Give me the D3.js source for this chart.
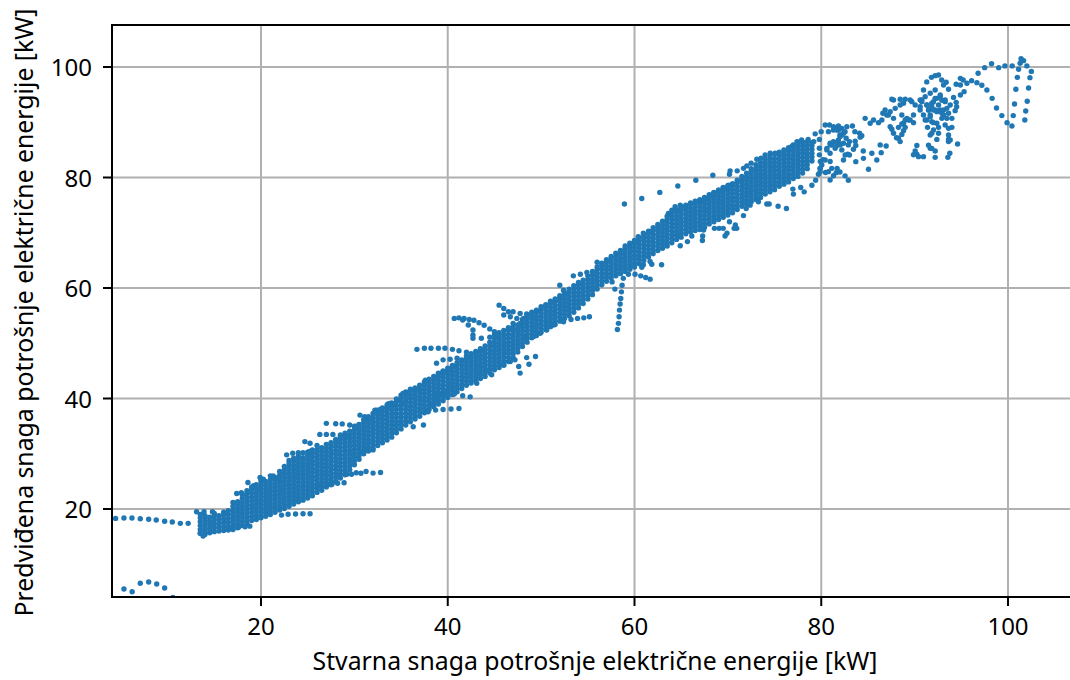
<!DOCTYPE html>
<html><head><meta charset="utf-8">
<script src="https://cdn.jsdelivr.net/npm/d3@7"></script>
<style>html,body{margin:0;padding:0;background:#fff}svg{display:block}text{font-family:"Noto Sans","Open Sans",sans-serif;fill:#000}</style>
</head><body><svg id="c" width="1070" height="680"></svg>
<script>
const xTicks=[20,40,60,80,100];
const yTicks=[20,40,60,80,100];
const xLabel="Stvarna snaga potrošnje električne energije [kW]";
const yLabel="Predviđena snaga potrošnje električne energije [kW]";
// dense core of the cloud, per actual-power column: predicted values as read
const coreX=[13.5,14,14.5,15,15.5,16,16.5,17,17.5,18,18.5,19,19.5,20,20.5,21,21.5,22,22.5,23,23.5,24,24.5,25,25.5,26,26.5,27,27.5,28,28.5,29,29.5,30,30.5,31,31.5,32,32.5,33,33.5,34,34.5,35,35.5,36,36.5,37,37.5,38,38.5,39,39.5,40,40.5,41,41.5,42,42.5,43,43.5,44,44.5,45,45.5,46,46.5,47,47.5,48,48.5,49,49.5,50,50.5,51,51.5,52,52.5,53,53.5,54,54.5,55,55.5,56,56.5,57,57.5,58,58.5,59,59.5,60,60.5,61,61.5,62,62.5,63,63.5,64,64.5,65,65.5,66,66.5,67,67.5,68,68.5,69,69.5,70,70.5,71,71.5,72,72.5,73,73.5,74,74.5,75,75.5,76,76.5,77,77.5,78,78.5,79];
const coreY=[
[15.6,16.3,17,17.7,18.4,19],[15.4,16,16.7,17.4,18.1,18.8],[15.7,16.4,17.1,17.8,18.5],[15.9,16.6,17.3,18,18.7,19.2],[16,16.7,17.4,18.1,18.8],[16.1,16.8,17.5,18.2,18.9,19.4],[16.2,16.9,17.6,18.3,19,19.7],[16.3,17,17.7,18.4,19.1,19.8,20.5,21.2],[16.6,17.3,18,18.7,19.4,20.1,20.8,21.3],[17,17.7,18.4,19.1,19.8,20.5,21.2,21.9,22.6],
[17.3,18,18.7,19.4,20.1,20.8,21.5,22.2,22.9],[17.9,18.6,19.3,20,20.7,21.4,22.1,22.8,23.5,24],[18.1,18.8,19.5,20.2,20.9,21.6,22.3,23,23.7,24.4],[18.4,19.1,19.8,20.5,21.2,21.9,22.6,23.3,24,24.7,25.2],[18.7,19.4,20.1,20.8,21.5,22.2,22.9,23.6,24.3,25],[19,19.7,20.4,21.1,21.8,22.5,23.2,23.9,24.6,25.3,26],[19.4,20.1,20.8,21.5,22.2,22.9,23.6,24.3,25,25.7],[19.8,20.5,21.2,21.9,22.6,23.3,24,24.7,25.4,26.1,26.8],[20.1,20.8,21.5,22.2,22.9,23.6,24.3,25,25.7,26.4,27.1,27.7],[20.5,21.2,21.9,22.6,23.3,24,24.7,25.4,26.1,26.8,27.5,28.2,28.8],
[20.9,21.6,22.3,23,23.7,24.4,25.1,25.8,26.5,27.2,27.9,28.6,29.2],[21.3,22,22.7,23.4,24.1,24.8,25.5,26.2,26.9,27.6,28.3,29,29.6],[21.6,22.3,23,23.7,24.4,25.1,25.8,26.5,27.2,27.9,28.6,29.3],[22,22.7,23.4,24.1,24.8,25.5,26.2,26.9,27.6,28.3,29,29.7,30.3],[22.4,23.1,23.8,24.5,25.2,25.9,26.6,27.3,28,28.7,29.4,30.1,30.7],[23,23.7,24.4,25.1,25.8,26.5,27.2,27.9,28.6,29.3,30,30.7],[23.4,24.1,24.8,25.5,26.2,26.9,27.6,28.3,29,29.7,30.4,31.1],[24,24.7,25.4,26.1,26.8,27.5,28.2,28.9,29.6,30.3,31,31.7],[24.4,25.1,25.8,26.5,27.2,27.9,28.6,29.3,30,30.7,31.4,32],[25,25.7,26.4,27.1,27.8,28.5,29.2,29.9,30.6,31.3,32,32.6],
[25.6,26.3,27,27.7,28.4,29.1,29.8,30.5,31.2,31.9,32.6,33.1],[26.2,26.9,27.6,28.3,29,29.7,30.4,31.1,31.8,32.5,33.2,33.7],[27.1,27.8,28.5,29.2,29.9,30.6,31.3,32,32.7,33.4,34.1],[28,28.7,29.4,30.1,30.8,31.5,32.2,32.9,33.6,34.3,35],[29,29.7,30.4,31.1,31.8,32.5,33.2,33.9,34.6,35.3],[30,30.7,31.4,32.1,32.8,33.5,34.2,34.9,35.6,36.2],[30.5,31.2,31.9,32.6,33.3,34,34.7,35.4,36.1,36.7],[31,31.7,32.4,33.1,33.8,34.5,35.2,35.9,36.6,37.3],[31.5,32.2,32.9,33.6,34.3,35,35.7,36.4,37.1,37.8],[32,32.7,33.4,34.1,34.8,35.5,36.2,36.9,37.6,38.3],
[32.5,33.2,33.9,34.6,35.3,36,36.7,37.4,38.1,38.8],[33,33.7,34.4,35.1,35.8,36.5,37.2,37.9,38.6,39.2],[33.8,34.5,35.2,35.9,36.6,37.3,38,38.7,39.4,39.9],[34.5,35.2,35.9,36.6,37.3,38,38.7,39.4,40.1,40.6],[35.2,35.9,36.6,37.3,38,38.7,39.4,40.1,40.8,41.2],[35.8,36.5,37.2,37.9,38.6,39.3,40,40.7,41.4,41.7],[36.3,37,37.7,38.4,39.1,39.8,40.5,41.2,41.9],[36.8,37.5,38.2,38.9,39.6,40.3,41,41.7,42.4],[37.4,38.1,38.8,39.5,40.2,40.9,41.6,42.3,43],[38,38.7,39.4,40.1,40.8,41.5,42.2,42.9,43.5],
[38.5,39.2,39.9,40.6,41.3,42,42.7,43.4,44],[39,39.7,40.4,41.1,41.8,42.5,43.2,43.9,44.5],[39.6,40.3,41,41.7,42.4,43.1,43.8,44.5,45],[40.2,40.9,41.6,42.3,43,43.7,44.4,45.1,45.5],[40.7,41.4,42.1,42.8,43.5,44.2,44.9,45.6,46],[41.2,41.9,42.6,43.3,44,44.7,45.4,46.1,46.5],[41.8,42.5,43.2,43.9,44.6,45.3,46,46.7,47],[42.4,43.1,43.8,44.5,45.2,45.9,46.6,47.3,47.7],[42.8,43.5,44.2,44.9,45.6,46.3,47,47.7,48.1],[43.2,43.9,44.6,45.3,46,46.7,47.4,48.1,48.5],
[43.6,44.3,45,45.7,46.4,47.1,47.8,48.5,49],[44,44.7,45.4,46.1,46.8,47.5,48.2,48.9,49.5],[44.6,45.3,46,46.7,47.4,48.1,48.8,49.5,50.2],[45.2,45.9,46.6,47.3,48,48.7,49.4,50.1,50.8,51.5],[45.6,46.3,47,47.7,48.4,49.1,49.8,50.5,51.2,51.9],[46,46.7,47.4,48.1,48.8,49.5,50.2,50.9,51.6,52.3],[46.7,47.4,48.1,48.8,49.5,50.2,50.9,51.6,52.3,52.8],[47.4,48.1,48.8,49.5,50.2,50.9,51.6,52.3,53],[48.4,49.1,49.8,50.5,51.2,51.9,52.6,53.3],[49.4,50.1,50.8,51.5,52.2,52.9,53.6,54.3],
[50.2,50.9,51.6,52.3,53,53.7,54.4,55],[51,51.7,52.4,53.1,53.8,54.5,55.2,55.6],[51.4,52.1,52.8,53.5,54.2,54.9,55.6,56],[52,52.7,53.4,54.1,54.8,55.5,56.2,56.6],[52.5,53.2,53.9,54.6,55.3,56,56.7,57],[53,53.7,54.4,55.1,55.8,56.5,57.2,57.6],[53.4,54.1,54.8,55.5,56.2,56.9,57.6,58],[54,54.7,55.4,56.1,56.8,57.5,58.2,58.6],[54.5,55.2,55.9,56.6,57.3,58,58.7,59.2],[55,55.7,56.4,57.1,57.8,58.5,59.2,59.8],
[55.6,56.3,57,57.7,58.4,59.1,59.8,60.4],[56.4,57.1,57.8,58.5,59.2,59.9,60.6,61],[57.2,57.9,58.6,59.3,60,60.7,61.4],[58,58.7,59.4,60.1,60.8,61.5,62.2],[58.8,59.5,60.2,60.9,61.6,62.3,63],[59.8,60.5,61.2,61.9,62.6,63.3,63.8],[60.6,61.3,62,62.7,63.4,64.1,64.5],[61.2,61.9,62.6,63.3,64,64.7,65.1],[61.8,62.5,63.2,63.9,64.6,65.3,65.7],[62.2,62.9,63.6,64.3,65,65.7,66.3],
[62.6,63.3,64,64.7,65.4,66.1,66.8],[63,63.7,64.4,65.1,65.8,66.5,67.2,67.6],[63.4,64.1,64.8,65.5,66.2,66.9,67.6,68.1],[63.8,64.5,65.2,65.9,66.6,67.3,68,68.6],[64.4,65.1,65.8,66.5,67.2,67.9,68.6,69.1],[65,65.7,66.4,67.1,67.8,68.5,69.2,69.7],[65.6,66.3,67,67.7,68.4,69.1,69.8,70.3],[66.2,66.9,67.6,68.3,69,69.7,70.4,70.9],[66.8,67.5,68.2,68.9,69.6,70.3,71,71.5],[67.2,67.9,68.6,69.3,70,70.7,71.4,72.1],
[67.6,68.3,69,69.7,70.4,71.1,71.8,72.5,73],[68.2,68.9,69.6,70.3,71,71.7,72.4,73.1,73.6],[68.8,69.5,70.2,70.9,71.6,72.3,73,73.7,74.2],[69.2,69.9,70.6,71.3,72,72.7,73.4,74.1,74.6],[69.8,70.5,71.2,71.9,72.6,73.3,74,74.7,75],[70.2,70.9,71.6,72.3,73,73.7,74.4,75.1,75.4],[70.4,71.1,71.8,72.5,73.2,73.9,74.6,75.3,75.7],[70.6,71.3,72,72.7,73.4,74.1,74.8,75.5,76],[71,71.7,72.4,73.1,73.8,74.5,75.2,75.9,76.4],[71.6,72.3,73,73.7,74.4,75.1,75.8,76.5,76.9],
[72,72.7,73.4,74.1,74.8,75.5,76.2,76.9,77.3],[72.4,73.1,73.8,74.5,75.2,75.9,76.6,77.3,77.7],[72.8,73.5,74.2,74.9,75.6,76.3,77,77.7,78.1],[73.2,73.9,74.6,75.3,76,76.7,77.4,78.1,78.5],[73.6,74.3,75,75.7,76.4,77.1,77.8,78.5,78.9],[74.2,74.9,75.6,76.3,77,77.7,78.4,79.1,79.5],[74.8,75.5,76.2,76.9,77.6,78.3,79,79.7,80.2],[75.2,75.9,76.6,77.3,78,78.7,79.4,80.1,80.8],[75.6,76.3,77,77.7,78.4,79.1,79.8,80.5,81.2,81.6],[76,76.7,77.4,78.1,78.8,79.5,80.2,80.9,81.6,82.3],
[76.4,77.1,77.8,78.5,79.2,79.9,80.6,81.3,82,82.7],[77,77.7,78.4,79.1,79.8,80.5,81.2,81.9,82.6,83.3],[77.4,78.1,78.8,79.5,80.2,80.9,81.6,82.3,83,83.7],[77.8,78.5,79.2,79.9,80.6,81.3,82,82.7,83.4,84.2],[78.4,79.1,79.8,80.5,81.2,81.9,82.6,83.3,84,84.6],[78.8,79.5,80.2,80.9,81.6,82.3,83,83.7,84.4,85],[79.2,79.9,80.6,81.3,82,82.7,83.4,84.1,84.8,85.4],[79.8,80.5,81.2,81.9,82.6,83.3,84,84.7,85.4,85.9],[80.2,80.9,81.6,82.3,83,83.7,84.4,85.1,85.8,86.4],[80.8,81.5,82.2,82.9,83.6,84.3,85,85.7,86.4],
[81.6,82.3,83,83.7,84.4,85.1,85.8,86.5],[83,83.7,84.4,85.1,85.8,86.3]
];
// individually readable points: actual power, predicted power
const sparseX=[4.43,5.32,6.18,7.07,7.97,8.78,9.68,10.5,11.36,12.2,5.32,6.2,7.07,7.97,8.83,9.68,10.57,13.1,13.9,14.8,13.5,13.8,22.2,22.9,23.7,24.5,25.25,26.3,27,27.6,28.2,28.9,29.2,29.7,30.2,30.7,31.25,32,32.8,27,28,28.7,29.5,30.25,26.3,27,27.7,28.5,29.2,24.7,25.25,26,22.75,23.4,24,24.5,25.2,19.9,20.25,21.3,21.85,18.6,19.2,19.6,17.4,17.9,18.5,18.8,18.3,17.6,16.9,32,31.3,30.6,30.6,31.1,31.7,32.4,33.8,34.4,32.2,32.75,33.5,33.6,34.35,35.1,35.2,36,36.7,37.6,37.5,36.3,37.4,37.9,38.7,39.5,40.35,41.2,38.3,38.6,39,39.9,40.7,41.6,42.4,36.7,37.5,38.2,39,39.7,40.5,41.2,42,38.8,39.5,40.25,41,39,39.5,40.1,40.6,40.7,41.2,41.75,42.3,42.8,43.35,43.9,44.5,45,45.4,41.6,42.2,42.7,42.7,42.7,43.6,44.5,45.2,45.5,46,46.5,47,47.75,48.45,49,46,46.7,47.4,48.1,47,47,47.75,48.45,48.45,49.4,48.7,47.75,47.6,47.2,46.7,46,44.7,44.2,43.1,55.17,54.57,53.9,53.2,52.4,51.3,50.6,49.9,49.2,48.3,58.17,58.28,58.35,58.39,58.46,58.53,58.6,58.67,58.8,59.35,60.06,60.67,61.2,61.67,57.6,57.9,53.45,54.2,54.9,52,52.4,56,58.92,60.78,62.71,64.64,66.57,68.39,70.24,70.17,71,71.67,72.03,72.49,73.1,73.56,73.99,74.53,75.06,63.63,64,64.35,64.9,65.4,60.06,60.4,60.95,61.67,68.45,69,69.5,70.06,66.67,67.4,68.1,62.9,61.85,61.67,60.78,60.95,64.9,65.67,64.9,66.14,67.27,67.3,67.4,68.56,69.06,69.7,69.9,70.17,70.8,70.95,70.67,69.5,71.67,71.96,72.38,73.27,74.17,74.42,75.38,76.27,76.96,77.02,77.8,78.17,79,79.4,79.7,80.45,82.9,82.55,82,81.7,80.95,80.2,79.9,79.35,79.8,79.8,79.8,76.85,77.4,77.9,78.6,79.2,80.6,80.95,81.67,82.38,82.9,83.7,84.5,82,82.55,83.6,84.17,80.95,101.4,101.67,101.3,101.13,102.02,102.5,102.35,102.2,102.06,101.9,101.8,101,100.84,100.7,100.56,100.42,99.9,99.34,98.77,98.3,97.74,97.2,96.67,96.1,96.8,97.5,98.24,99,99.67,100.45,95.6,95.2,94.9,94.45,94.9,95.3,94.9,94.17,94.45,94.5,94.34,92.56,92.2,91.8,91.3,92.9,93.38,93.1,93.63,90.95,90.59,91.13,91.67,92.2,92.74,93.27,93.81,90.59,91.31,92.02,92.56,93.1,93.63,90.95,91.67,92.38,92.92,93.99,91.13,91.84,92.38,93.27,91.31,92.02,92.56,93.63,93.99,91.38,92.02,92.56,93.63,91.67,91.84,92.38,93.63,94.6,93.63,93.81,91.49,91.84,91.67,92.2,90.95,92.2,93.56,93.77,90.24,90.42,90.77,91.49,91.84,92.2,92.38,92.74,92.92,93.27,90.77,91.31,91.84,92.2,92.74,93.45,90.59,91.49,92.02,92.56,93.1,93.45,91.67,92.92,89.88,89.34,88.81,88.27,87.74,87.56,88.45,88.99,89.7,90.06,89.52,88.81,88.45,87.92,87.38,86.84,86.6,88.63,89.17,89.52,89.88,88.99,86.49,86.13,85.6,85.24,84.7,87.02,87.2,87.74,88.63,88.99,88.81,88.63,87.38,87.56,87.74,88.27,88.06,88.45,86.95,86.31,86.42,85.95,85.42,84.52,83.7,85.06,89.88,90.06,90.24,84.34,84.1,83.63,83.45,83.02,82.67,82.2,81.84,81.31,80.88,80.42,79.99,82.38,81.84,83.34,82.74,82.2,81.67,81.31,80.77,81.49,82.02,80.95,81.31,81.84,81.84,81.13,81.49,82.02,82.2,82.84,82.56,83.02,80.42,80.06,79.88,79.88,79.88,80.77,81.31,80.95,81.6,81.13,82.38,80.6];
const sparseY=[18.3,18.37,18.37,18.24,18.14,18,17.77,17.65,17.4,17.4,5.52,5.03,6.55,6.79,6.43,5.7,4,19.5,19.5,19.5,15.6,15.1,18.9,19.05,19.1,19.15,19.15,24.2,24.3,24.5,24.65,24.76,26.3,26.3,26.57,26.46,26.8,26.5,26.6,35.5,35.44,35.4,35.2,35,33.5,33.5,33.5,33.4,33.2,32.2,31.9,31.5,29.8,30.1,30.2,30.2,30.4,25.7,25.4,26,25.55,24.8,24.2,23.6,22.8,22.95,23.3,16.9,16.8,16.7,16.5,30.7,30.7,30.4,37,36.7,36.2,37.9,39.1,39.1,37.9,38,38.2,39,39.1,39.2,40.9,41.4,41.7,43.3,42.4,34.9,35.2,37.6,37.9,38,38.1,38.2,39.1,40,40.9,40.9,40.8,40.5,40.3,48.9,49.1,49.1,49.1,49.1,48.9,48.65,48.4,46.4,47,47.1,47.3,44.6,44.85,45.3,45.75,54.5,54.6,54.5,54.3,54.15,53.7,53.25,52.6,52.1,51.7,54.2,53.3,52.4,51.5,50.9,50.9,51.1,51.2,56.9,56.3,55.7,55.7,55.4,55.3,55.1,55.1,54.8,54.5,54.5,53.6,52.4,53.6,53.6,47.4,47.6,46.2,44.6,45.8,47,46.7,46.1,44.3,45.1,42.75,54.8,54.6,54.5,54.3,53.9,53.3,52.4,51.8,51.2,50.9,52.5,53.6,54.8,56,57.1,58.1,59.3,60.5,61.75,62.5,62.5,62.2,61.9,61.6,61.1,59.8,62.2,62.5,62.8,60.5,59.6,64.65,75.2,76.2,77.3,78.46,79.5,80.4,81.2,80.6,81.2,81.66,82.1,82.6,83.3,83.5,84.1,84.4,84.4,73.5,74.1,74.7,75,74.7,68.4,69.3,69.9,70.2,77.1,77.7,78.2,78.6,75.6,75.9,76.5,64.2,64.3,64.8,63.75,64.2,67.66,68.4,69.3,69.4,68.6,69.4,70.5,70.8,70.8,69.4,69.9,72,71.4,70.8,70.8,70.8,73.1,74.4,75,75.6,75.2,75.2,74.8,74.4,77.9,77,78.2,77.4,78.6,79.5,80.6,80.9,79.5,80.3,81,81.66,82.9,83.2,82.9,87.9,86.9,85.3,84.1,85.6,86.5,86.8,86.9,86.5,85,85.9,85.8,86.2,85.9,85.8,84.8,87.7,88.3,88.3,87.3,84.4,101.5,101.15,100.67,99.6,100.2,99.2,98.07,96.2,93.8,92.04,90.4,98.13,95.96,93.3,91.2,89.33,89.93,91.2,92.58,94.33,95.84,96.7,97.17,97.53,98.86,99.88,100.6,99.88,100.2,100.2,97.05,97.65,97.95,96.87,96.75,95.54,94.94,94.5,93.6,92.8,92.1,98.56,98.43,98.13,97.3,97.65,97.23,96.75,95.96,95.84,94.03,94.63,95.24,95.84,94.94,93.73,93.13,92.82,93.13,93.73,93.13,92.22,91.62,91.32,91.32,91.92,91.62,90.71,90.41,90.11,89.81,89.5,90.41,89.93,89.08,88.9,89.08,89.08,88.6,88,87.7,87.7,88,86.9,86.5,86.07,86.9,86.8,85.83,85.28,85.28,84.8,83.77,83.65,83.65,84.4,84.2,83.77,93.73,92.22,93.43,94.33,94.33,94.63,93.99,94.03,94.03,93.13,92.82,92.22,92.22,92.52,92.22,92.22,92.22,92.1,91.32,90.71,91.01,90.71,91.32,90.41,89.81,89.08,94.03,94.15,94.15,94.15,93.73,93.13,94.03,93.43,93.13,92.52,91.92,92.22,91.62,91.32,90.71,90.41,89.93,90.41,90.41,89.93,90.41,89.81,90.71,91.32,91.32,90.71,89.68,89.08,88.48,87.8,89.2,88.72,88,87.1,87.2,86.5,85.7,85.9,84.5,83.17,84.4,83.47,82.87,81.48,84.13,84.8,85.8,87.57,88,86.55,85.1,86.5,87.1,87.7,88.6,89.2,89.5,89.5,88.3,88,89.33,89.33,89.2,88.9,88.6,88.6,88.3,88.72,87.4,86.2,86.5,86.8,86.2,85.9,85.28,85.9,85,84.2,84.07,84.07,83.17,82.27,81.66,81.66,81.06,81.06,80.33,79.55,80.88,81.66,83.17,85.28,86.8,85.28,85.6,85.9,85.7,85.1,84.8,85.7];
const L=112,R=1069,T=25,B=597;
const x=d3.scaleLinear().domain([20,100]).range([261,1008]);
const y=d3.scaleLinear().domain([20,100]).range([509,67]);
const svg=d3.select("#c");
svg.append("clipPath").attr("id","clip").append("rect").attr("x",L).attr("y",T).attr("width",R-L+1).attr("height",B-T);
const g=svg.append("g");
g.selectAll(".gx").data(xTicks).join("line").attr("x1",d=>x(d)).attr("x2",d=>x(d)).attr("y1",T).attr("y2",B).attr("stroke","#b0b0b0").attr("stroke-width",2);
g.selectAll(".gy").data(yTicks).join("line").attr("y1",d=>y(d)).attr("y2",d=>y(d)).attr("x1",L).attr("x2",R+1).attr("stroke","#b0b0b0").attr("stroke-width",2);
const pts=[];
coreX.forEach((cx,i)=>coreY[i].forEach(v=>pts.push([cx,v])));
sparseX.forEach((sx,i)=>pts.push([sx,sparseY[i]]));
svg.append("g").attr("clip-path","url(#clip)").selectAll("circle").data(pts).join("circle")
 .attr("cx",d=>x(d[0])).attr("cy",d=>y(d[1])).attr("r",2.7).attr("fill","#1f77b4");
const spine=(x1,y1,x2,y2)=>svg.append("line").attr("x1",x1).attr("y1",y1).attr("x2",x2).attr("y2",y2).attr("stroke","#000").attr("stroke-width",2).attr("stroke-linecap","square");
spine(L,T,R+1,T);spine(L,B,R+1,B);spine(L,T,L,B);
xTicks.forEach(t=>{
 svg.append("line").attr("x1",x(t)).attr("x2",x(t)).attr("y1",B).attr("y2",B+9).attr("stroke","#000").attr("stroke-width",2);
 svg.append("text").attr("x",x(t)).attr("y",635).attr("text-anchor","middle").attr("font-size",24).text(t);
});
yTicks.forEach(t=>{
 svg.append("line").attr("x1",L-9).attr("x2",L).attr("y1",y(t)).attr("y2",y(t)).attr("stroke","#000").attr("stroke-width",2);
 svg.append("text").attr("x",92).attr("y",y(t)+9).attr("text-anchor","end").attr("font-size",24).text(t);
});
svg.append("text").attr("x",595).attr("y",670).attr("text-anchor","middle").attr("font-size",24.8).text(xLabel);
svg.append("text").attr("transform","translate(33,312.5) rotate(-90)").attr("text-anchor","middle").attr("font-size",24.8).text(yLabel);
</script></body></html>
